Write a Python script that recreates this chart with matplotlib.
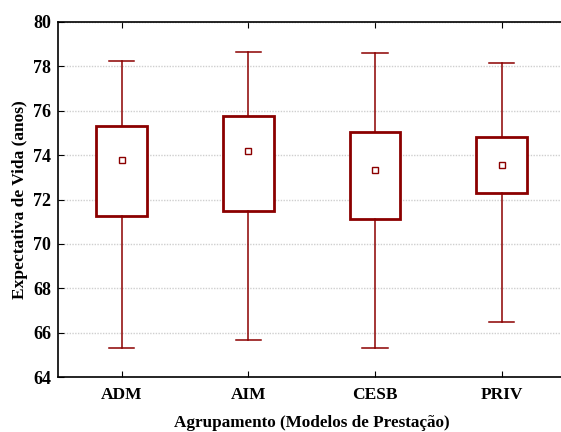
import numpy as np
import matplotlib
matplotlib.use('Agg')
import matplotlib.pyplot as plt

grupos = ['ADM', 'AIM', 'CESB', 'PRIV']
w_min = [65.3, 65.65, 65.3, 66.5]
q_low = [71.27, 71.5, 71.12, 72.3]
media = [73.8, 74.17, 73.33, 73.57]
q_high = [75.3, 75.76, 75.03, 74.8]
w_max = [78.22, 78.65, 78.6, 78.13]

yticks = [64, 66, 68, 70, 72, 74, 76, 78, 80]

cor = '#8b0000'
plt.rcParams['font.family'] = ['Liberation Serif', 'DejaVu Serif']
plt.rcParams['font.weight'] = 'bold'

fig = plt.figure(figsize=(5.61, 4.32), dpi=100)
ax = fig.add_axes([58.3 / 561, 1 - 377 / 432, (565 - 58.3) / 561, (377 - 22) / 432])

stats = []
for i, g in enumerate(grupos):
    stats.append(dict(label=g, whislo=w_min[i], q1=q_low[i], med=media[i],
                      q3=q_high[i], whishi=w_max[i], mean=media[i]))

ax.bxp(stats, positions=range(len(grupos)), widths=0.4, showmeans=True,
       showfliers=False, patch_artist=True,
       boxprops=dict(edgecolor=cor, facecolor='white', linewidth=2.0),
       whiskerprops=dict(color=cor, linewidth=1.1),
       capprops=dict(color=cor, linewidth=1.1),
       medianprops=dict(linewidth=0),
       meanprops=dict(marker='s', markersize=4.5, markerfacecolor='white',
                      markeredgecolor=cor, markeredgewidth=1.0),
       capwidths=0.2, zorder=3)

ax.set_xlim(-0.5, 3.5)
ax.set_ylim(64, 80)
ax.set_yticks(yticks)
ax.set_xticks(range(len(grupos)))
ax.set_xticklabels(grupos)
ax.yaxis.grid(True, color='#cfcfcf', linestyle=(0, (1, 1)), linewidth=1.0, zorder=0)
ax.set_axisbelow(True)
ax.spines['right'].set_visible(False)
ax.tick_params(direction='in', top=True, right=False, length=4)
ax.tick_params(axis='y', labelsize=13, pad=5)
ax.tick_params(axis='x', labelsize=12.5, pad=7)
for s in ax.spines.values():
    s.set_linewidth(1.2)

ax.set_xlabel('Agrupamento (Modelos de Prestação)', fontsize=12.3, fontweight='bold', labelpad=9)
ax.set_ylabel('Expectativa de Vida (anos)', fontsize=12.5, fontweight='bold', labelpad=4)

fig.savefig('out.png', dpi=100)
